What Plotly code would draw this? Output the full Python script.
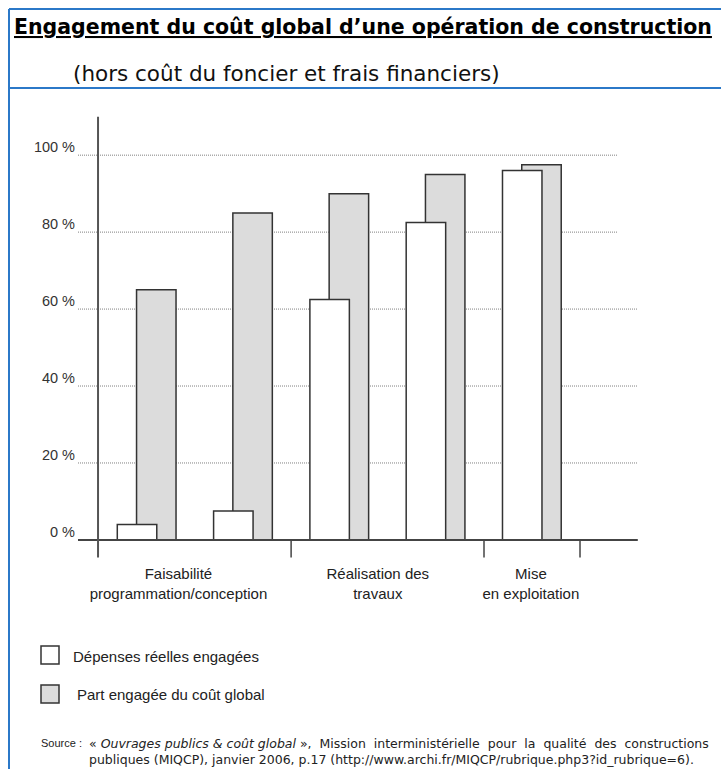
import plotly.graph_objects as go
import numpy as np

# ---- data ----
stages = ["Faisabilité", "Programmation", "Conception", "Réalisation", "Mise en exploitation"]
depenses_reelles = [4, 7.5, 62.5, 82.5, 96]      # Dépenses réelles engagées (%)
part_cout_global = [65, 85, 90, 95, 97.5]        # Part engagée du coût global (%)
y_ticks = [0, 20, 40, 60, 80, 100]
y_tick_labels = ["0 %", "20 %", "40 %", "60 %", "80 %", "100 %"]
phase_labels = ["Faisabilité<br>programmation/conception",
                "Réalisation des<br>travaux",
                "Mise<br>en exploitation"]
legend_labels = ["Dépenses réelles engagées", "Part engagée du coût global"]

# ---- layout constants ----
W, H = 721, 769
ML, MR, MT, MB = 78, 81, 109, 206
PW, PH = W - ML - MR, H - MT - MB
X_RANGE = [-0.613, 5.223]
Y_RANGE = [-6, 112]
BAR_W = 0.41
phase_label_pos = [0.43, 2.5, 4.09]
separators = [1.6, 3.603, 4.6]
yaxis_x = -0.405
grid_end = {20: 5.2, 40: 5.2, 60: 5.2, 80: 4.995, 100: 4.995}

FONT = "Liberation Sans, Arial, sans-serif"
DOC_FONT = "DejaVu Sans, sans-serif"
EDGE = "#333333"
GRAY = "#dcdcdc"
BLUE = "#2b78c8"


def px(xp):
    return (xp - ML) / PW


def py(yp):
    return (H - MB - yp) / PH


x = np.arange(len(stages))

fig = go.Figure()
fig.add_trace(go.Bar(
    x=x, y=part_cout_global, width=BAR_W, offset=-0.005,
    marker=dict(color=GRAY, line=dict(color=EDGE, width=1.5)),
    name=legend_labels[1], showlegend=False, hoverinfo="y"))
fig.add_trace(go.Bar(
    x=x, y=depenses_reelles, width=BAR_W, offset=-BAR_W / 2,
    marker=dict(color="white", line=dict(color=EDGE, width=1.5)),
    name=legend_labels[0], showlegend=False, hoverinfo="y"))

shapes = []
# dotted gridlines
for v in y_ticks[1:]:
    shapes.append(dict(type="line", xref="x", yref="y", x0=X_RANGE[0], x1=grid_end[v],
                       y0=v, y1=v, line=dict(color="#808080", width=1, dash="1px,1px"), layer="below"))
# zero line
shapes.append(dict(type="line", xref="x", yref="y", x0=X_RANGE[0], x1=5.2, y0=0, y1=0,
                   line=dict(color="#444444", width=2)))
# y axis line
shapes.append(dict(type="line", xref="x", yref="y", x0=yaxis_x, x1=yaxis_x, y0=-4.6, y1=110,
                   line=dict(color="#555555", width=2)))
# phase separators
for s in separators:
    shapes.append(dict(type="line", xref="x", yref="y", x0=s, x1=s, y0=0, y1=-4.6,
                       line=dict(color="#444444", width=1.5)))

# blue frame
shapes.append(dict(type="line", xref="paper", yref="paper", x0=px(9), x1=px(721), y0=py(9), y1=py(9),
                   line=dict(color=BLUE, width=2)))
shapes.append(dict(type="line", xref="paper", yref="paper", x0=px(9), x1=px(721), y0=py(88), y1=py(88),
                   line=dict(color=BLUE, width=2)))
shapes.append(dict(type="line", xref="paper", yref="paper", x0=px(9), x1=px(9), y0=py(9), y1=py(769),
                   line=dict(color=BLUE, width=2)))

# legend keys
shapes.append(dict(type="rect", xref="paper", yref="paper", x0=px(41), x1=px(59), y0=py(646), y1=py(664),
                   fillcolor="white", line=dict(color=EDGE, width=1.5)))
shapes.append(dict(type="rect", xref="paper", yref="paper", x0=px(41), x1=px(59), y0=py(685), y1=py(703),
                   fillcolor=GRAY, line=dict(color=EDGE, width=1.5)))

source_text = ("« <i>Ouvrages publics & coût global</i> »,  Mission  interministérielle  pour  la  "
               "qualité  des  constructions<br>"
               "publiques (MIQCP), janvier 2006, p.17 (http://www.archi.fr/MIQCP/rubrique.php3?id_rubrique=6).")

annotations = [
    dict(text="<u><b>Engagement du coût global d’une opération de construction</b></u>",
         x=px(12), y=py(27), font=dict(size=20.5, color="black", family=DOC_FONT)),
    dict(text="(hors coût du foncier et frais financiers)",
         x=px(71), y=py(73), font=dict(size=21.5, color="#111111", family=DOC_FONT)),
    dict(text=legend_labels[0], x=px(71), y=py(656), font=dict(size=15, color="#222222", family=FONT)),
    dict(text=legend_labels[1], x=px(75), y=py(694), font=dict(size=15, color="#222222", family=FONT)),
    dict(text="Source :", x=px(39), y=py(743), font=dict(size=11, color="#222222", family=FONT)),
    dict(text=source_text, x=px(87), y=py(751), align="left",
         font=dict(size=12.5, color="#222222", family=DOC_FONT)),
]
for a in annotations:
    a.update(xref="paper", yref="paper", xanchor="left", yanchor="middle", showarrow=False)

fig.update_layout(
    width=W, height=H,
    margin=dict(l=ML, r=MR, t=MT, b=MB, pad=0),
    paper_bgcolor="white", plot_bgcolor="white",
    barmode="overlay", showlegend=False,
    font=dict(family=FONT, color="#333333"),
    shapes=shapes, annotations=annotations,
    xaxis=dict(range=X_RANGE, showgrid=False, zeroline=False, showline=False,
               tickmode="array", tickvals=phase_label_pos, ticktext=phase_labels,
               ticks="", tickfont=dict(size=15, color="#222222", family=FONT), fixedrange=True),
    yaxis=dict(range=Y_RANGE, showgrid=False, zeroline=False, showline=False,
               tickmode="array", tickvals=y_ticks, ticktext=y_tick_labels,
               ticks="", ticklabelstandoff=2, ticklabelshift=-8,
               tickfont=dict(size=14.5, color="#333333", family=FONT), fixedrange=True),
)

fig.write_html("out.html")
